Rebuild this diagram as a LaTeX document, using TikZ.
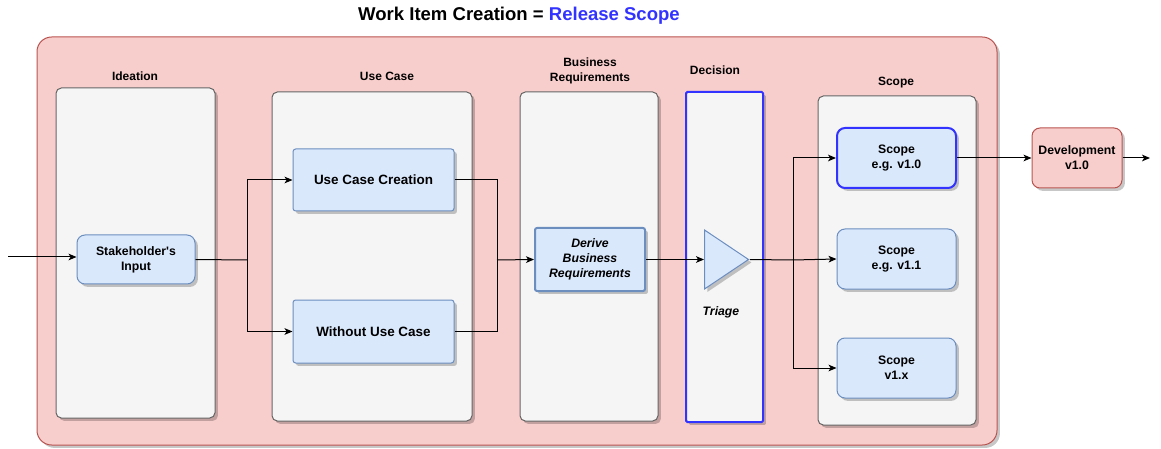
\documentclass[tikz,border=0pt]{standalone}
\usepackage{fontspec}
\setmainfont{Liberation Sans}
\usetikzlibrary{arrows.meta,shapes.geometric,shadows}
\definecolor{pinkfill}{HTML}{F8CECC}
\definecolor{pinkline}{HTML}{B85450}
\definecolor{grayfill}{HTML}{F5F5F5}
\definecolor{grayline}{HTML}{666666}
\definecolor{bluefill}{HTML}{DAE8FC}
\definecolor{blueline}{HTML}{6C8EBF}
\definecolor{strongblue}{HTML}{3333FF}
\newlength\pxu
\setlength\pxu{0.75pt}
\tikzset{
  shad/.style={drop shadow={shadow xshift=2.2pt, shadow yshift=-2.2pt, fill=black, opacity=0.22}},
  outerbox/.style={draw=pinkline, fill=pinkfill, rounded corners=11pt, line width=0.75pt, shad},
  colbox/.style={draw=grayline, fill=grayfill, rounded corners=4pt, line width=0.75pt, shad, inner sep=0pt},
  itembox/.style={draw=blueline, fill=bluefill, rounded corners=6pt, line width=0.75pt, shad, align=center, font=\fontsize{9.2}{11.3}\selectfont\bfseries, inner sep=0pt},
  collabel/.style={font=\fontsize{9}{10.8}\selectfont\bfseries, align=center},
  arr/.style={-{Stealth[length=6pt,width=5pt,inset=1.6pt]}, line width=0.75pt},
  ln/.style={line width=0.75pt},
}
\begin{document}
\begin{tikzpicture}[x=0.75pt,y=-0.75pt]
\useasboundingbox (0,0) rectangle (1161,449);
% title
\node[font=\fontsize{13.9}{16}\selectfont\bfseries] (title) at (519,16) {Work Item Creation = \textcolor{strongblue}{Release Scope}};
% outer container
\node[outerbox, minimum width=960\pxu, minimum height=408\pxu] (outer) at (517,241) {};
% columns
\node[colbox, minimum width=159\pxu, minimum height=330\pxu] (ide) at (135.5,253) {};
\node[colbox, minimum width=200\pxu, minimum height=329\pxu] (uc) at (372,256.5) {};
\node[colbox, minimum width=138\pxu, minimum height=329\pxu] (br) at (589,256.5) {};
\node[colbox, draw=strongblue, line width=1.5pt, rounded corners=1pt, minimum width=77\pxu, minimum height=330\pxu] (dec) at (724.5,257) {};
\node[colbox, minimum width=158\pxu, minimum height=329\pxu] (sc) at (897,260.5) {};
% column labels
\node[collabel] (lide) at (135,76) {Ideation};
\node[collabel] (luc) at (387,76) {Use Case};
\node[collabel] (lbr) at (590,71) {Business\\Requirements};
\node[collabel] (ldec) at (715,70) {Decision};
\node[collabel] (lsc) at (896,83) {Scope};
% items
\node[itembox, minimum width=118\pxu, minimum height=49\pxu] (sh) at (136,259.5) {Stakeholder\textquotesingle s\\Input};
\node[itembox, font=\fontsize{10.1}{12}\selectfont\bfseries, rounded corners=2pt, minimum width=161\pxu, minimum height=62\pxu] (ucc) at (373.5,180) {Use Case Creation};
\node[itembox, font=\fontsize{10.1}{12}\selectfont\bfseries, rounded corners=2pt, minimum width=161\pxu, minimum height=63\pxu] (wuc) at (373.5,331.5) {Without Use Case};
\node[itembox, line width=1.5pt, rounded corners=1.5pt, font=\fontsize{9.2}{11.3}\selectfont\bfseries\itshape, minimum width=110\pxu, minimum height=63\pxu] (dbr) at (590,259.5) {Derive\\Business\\Requirements};
\node[isosceles triangle, isosceles triangle stretches, shape border rotate=0, draw=blueline, fill=bluefill, line width=0.75pt, shad, inner sep=0pt, minimum width=59\pxu, minimum height=44\pxu, anchor=lower side] (tri) at (704,259.5) {};
\node[collabel, font=\fontsize{9.2}{11}\selectfont\bfseries\itshape] (triage) at (721,312) {Triage};
\node[itembox, draw=strongblue, line width=1.5pt, minimum width=119\pxu, minimum height=60\pxu] (s10) at (896.5,158) {Scope\\e.g. v1.0};
\node[itembox, minimum width=119\pxu, minimum height=60\pxu] (s11) at (896.5,259) {Scope\\e.g. v1.1};
\node[itembox, minimum width=119\pxu, minimum height=60\pxu] (s1x) at (896.5,368) {Scope\\v1.x};
\node[itembox, draw=pinkline, fill=pinkfill, minimum width=90\pxu, minimum height=60\pxu] (dev) at (1077,158) {Development\\v1.0};
% coordinates
\coordinate (in) at (8,257);
\coordinate (j1) at (247,260);
\coordinate (j2) at (497,260);
\coordinate (j3) at (793,260);
\coordinate (out) at (1150,158);
% connectors
\draw[arr] (in) -- (in -| sh.west);
\draw[ln] (sh.east) -- (j1);
\draw[arr] (j1) |- (ucc.west);
\draw[arr] (j1) |- (wuc.west);
\draw[ln] (ucc.east) -| (j2);
\draw[ln] (wuc.east) -| (j2);
\draw[arr] (j2) -- (dbr.west);
\draw[arr] (dbr.east) -- (tri.lower side);
\draw[ln] (tri.apex) -- (j3);
\draw[arr] (j3) |- (s10.west);
\draw[arr] (j3) -- (s11.west);
\draw[arr] (j3) |- (s1x.west);
\draw[arr] (s10.east) -- (dev.west);
\draw[arr] (dev.east) -- (out);
\end{tikzpicture}
\end{document}
